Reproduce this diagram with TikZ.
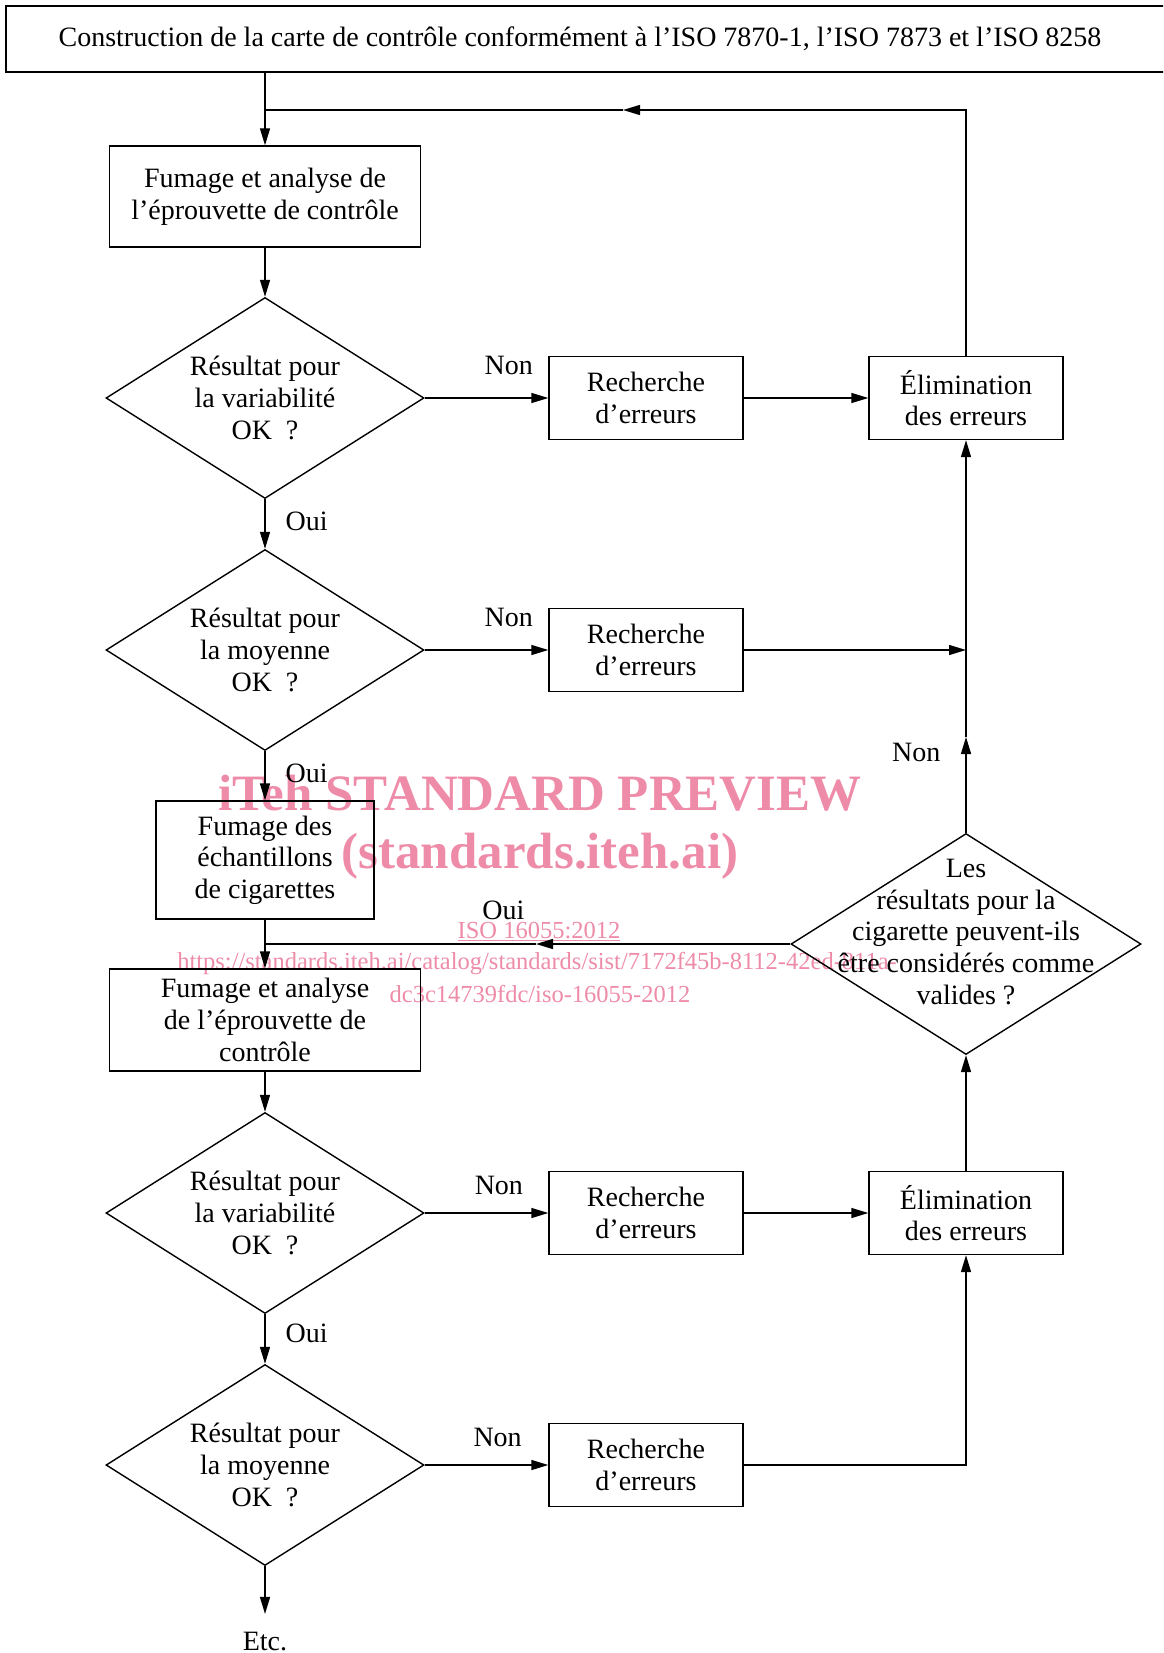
\documentclass[tikz,border=0pt]{standalone}
\usepackage{fontspec}
\setmainfont{Liberation Serif}
\usetikzlibrary{arrows.meta,shapes.geometric}
\definecolor{itehpink}{RGB}{237,139,168}

\begin{document}
\begin{tikzpicture}[x=1pt,y=-1pt,line width=1.4pt,
    >={Triangle[length=17pt,width=10pt]},
    font=\fontsize{28}{31.6}\selectfont,
    box/.style={draw,rectangle,align=center,inner sep=0pt,minimum width=194pt,minimum height=83pt},
    decision/.style={draw,diamond,aspect=1.58,align=center,inner sep=0pt,minimum width=318pt,minimum height=201pt},
    lbl/.style={inner sep=2pt}]

   \useasboundingbox (0,0) rectangle (1163,1653);
   \clip (0,0) rectangle (1163,1653);

   % watermark
   \begin{scope}[itehpink]
     \node[anchor=base,font=\fontsize{51}{51}\bfseries\selectfont] (wmtitle) at (540,810) {iTeh STANDARD PREVIEW};
     \node[anchor=base,font=\fontsize{51}{51}\bfseries\selectfont] (wmsite) at (540,868) {(standards.iteh.ai)};
     \node[anchor=base,font=\fontsize{24.5}{33}\selectfont] (wmiso) at (539,938) {\underline{ISO 16055:2012}};
     \node[anchor=base,font=\fontsize{24.5}{33}\selectfont] (wmurl) at (537,969) {https://standards.iteh.ai/catalog/standards/sist/7172f45b-8112-42ed-811a-};
     \node[anchor=base,font=\fontsize{24.5}{33}\selectfont] (wmurlb) at (540,1002) {dc3c14739fdc/iso-16055-2012};
   \end{scope}

   % title bar, open on the right
   \draw (6,6) rectangle (1185,72);
   \node (title) at (580,39) {Construction de la carte de contrôle conformément à l’ISO 7870-1, l’ISO 7873 et l’ISO 8258};
   \coordinate (titlebot) at (265,72);

   \node[box,minimum width=311pt,minimum height=101pt] (fum1) at (265,196.5) {Fumage et analyse de\\l’éprouvette de contrôle};
   \node[decision] (dec1) at (265,398) {Résultat pour\\la variabilité\\OK~~?};
   \node[box] (rech1) at (646,398) {Recherche\\d’erreurs};
   \node[box] (elim1) at (966,398) {Élimination\\des erreurs};
   \node[decision] (dec2) at (265,650) {Résultat pour\\la moyenne\\OK~~?};
   \node[box] (rech2) at (646,650) {Recherche\\d’erreurs};
   \node[box,minimum width=218pt,minimum height=118pt] (ech) at (265,860) {Fumage des\\échantillons\\de cigarettes};
   \node[box,minimum width=311pt,minimum height=102pt] (fum2) at (265,1020) {Fumage et analyse\\de l’éprouvette de\\contrôle};
   \node[decision,minimum width=350pt,minimum height=221pt,
     label={[align=center,yshift=12pt]center:Les\\résultats pour la\\cigarette peuvent-ils\\être considérés comme\\valides ?}] (valid) at (966,944) {};
   \node[decision] (dec3) at (265,1213) {Résultat pour\\la variabilité\\OK~~?};
   \node[box] (rech3) at (646,1213) {Recherche\\d’erreurs};
   \node[box] (elim2) at (966,1213) {Élimination\\des erreurs};
   \node[decision] (dec4) at (265,1465) {Résultat pour\\la moyenne\\OK~~?};
   \node[box] (rech4) at (646,1465) {Recherche\\d’erreurs};
   \node[lbl,anchor=base] (etc) at (265,1650) {Etc.};

   \coordinate (fbtip) at (623,110);
   \coordinate (fbjoin) at (265,110);
   \coordinate (ntip) at (966,737);
   \coordinate (wtip) at (536,944);
   \coordinate (wjoin) at (265,944);

   % first pass
   \draw[->] (titlebot) -- (fum1.north);
   \draw[->] (fum1.south) -- (dec1.north);
   \draw[->] (dec1.east) -- node[lbl,pos=0.68,above=21pt] {Non} (rech1.west);
   \draw[->] (rech1.east) -- (elim1.west);
   \draw[->] (elim1.north) |- (fbtip);
   \draw (fbtip) -- (fbjoin);
   \draw[->] (dec1.south) -- node[lbl,pos=0.45,right=18pt] {Oui} (dec2.north);
   \draw[->] (dec2.east) -- node[lbl,pos=0.68,above=21pt] {Non} (rech2.west);
   \draw[->] (rech2.east) -- (rech2.east -| elim1.south);
   \draw[->] (dec2.south) -- node[lbl,pos=0.45,right=18pt] {Oui} (ech.north);
   \draw[->] (ech.south) -- (fum2.north);

   % validity check
   \draw[->] (valid.north) -- node[lbl,pos=0.84,left=23pt] {Non} (ntip);
   \draw[->] (ntip) -- (elim1.south);
   \draw[->] (valid.west) -- (wtip);
   \draw (wtip) -- node[lbl,pos=0.12,above=22pt] {Oui} (wjoin);

   % second pass
   \draw[->] (fum2.south) -- (dec3.north);
   \draw[->] (dec3.east) -- node[lbl,pos=0.6,above=16pt] {Non} (rech3.west);
   \draw[->] (rech3.east) -- (elim2.west);
   \draw[->] (elim2.north) -- (valid.south);
   \draw[->] (dec3.south) -- node[lbl,pos=0.38,right=18pt] {Oui} (dec4.north);
   \draw[->] (dec4.east) -- node[lbl,pos=0.59,above=16pt] {Non} (rech4.west);
   \draw[->] (rech4.east) -| (elim2.south);
   \draw[->,shorten >=15pt] (dec4.south) -- (etc.north);
 \end{tikzpicture}
\end{document}
